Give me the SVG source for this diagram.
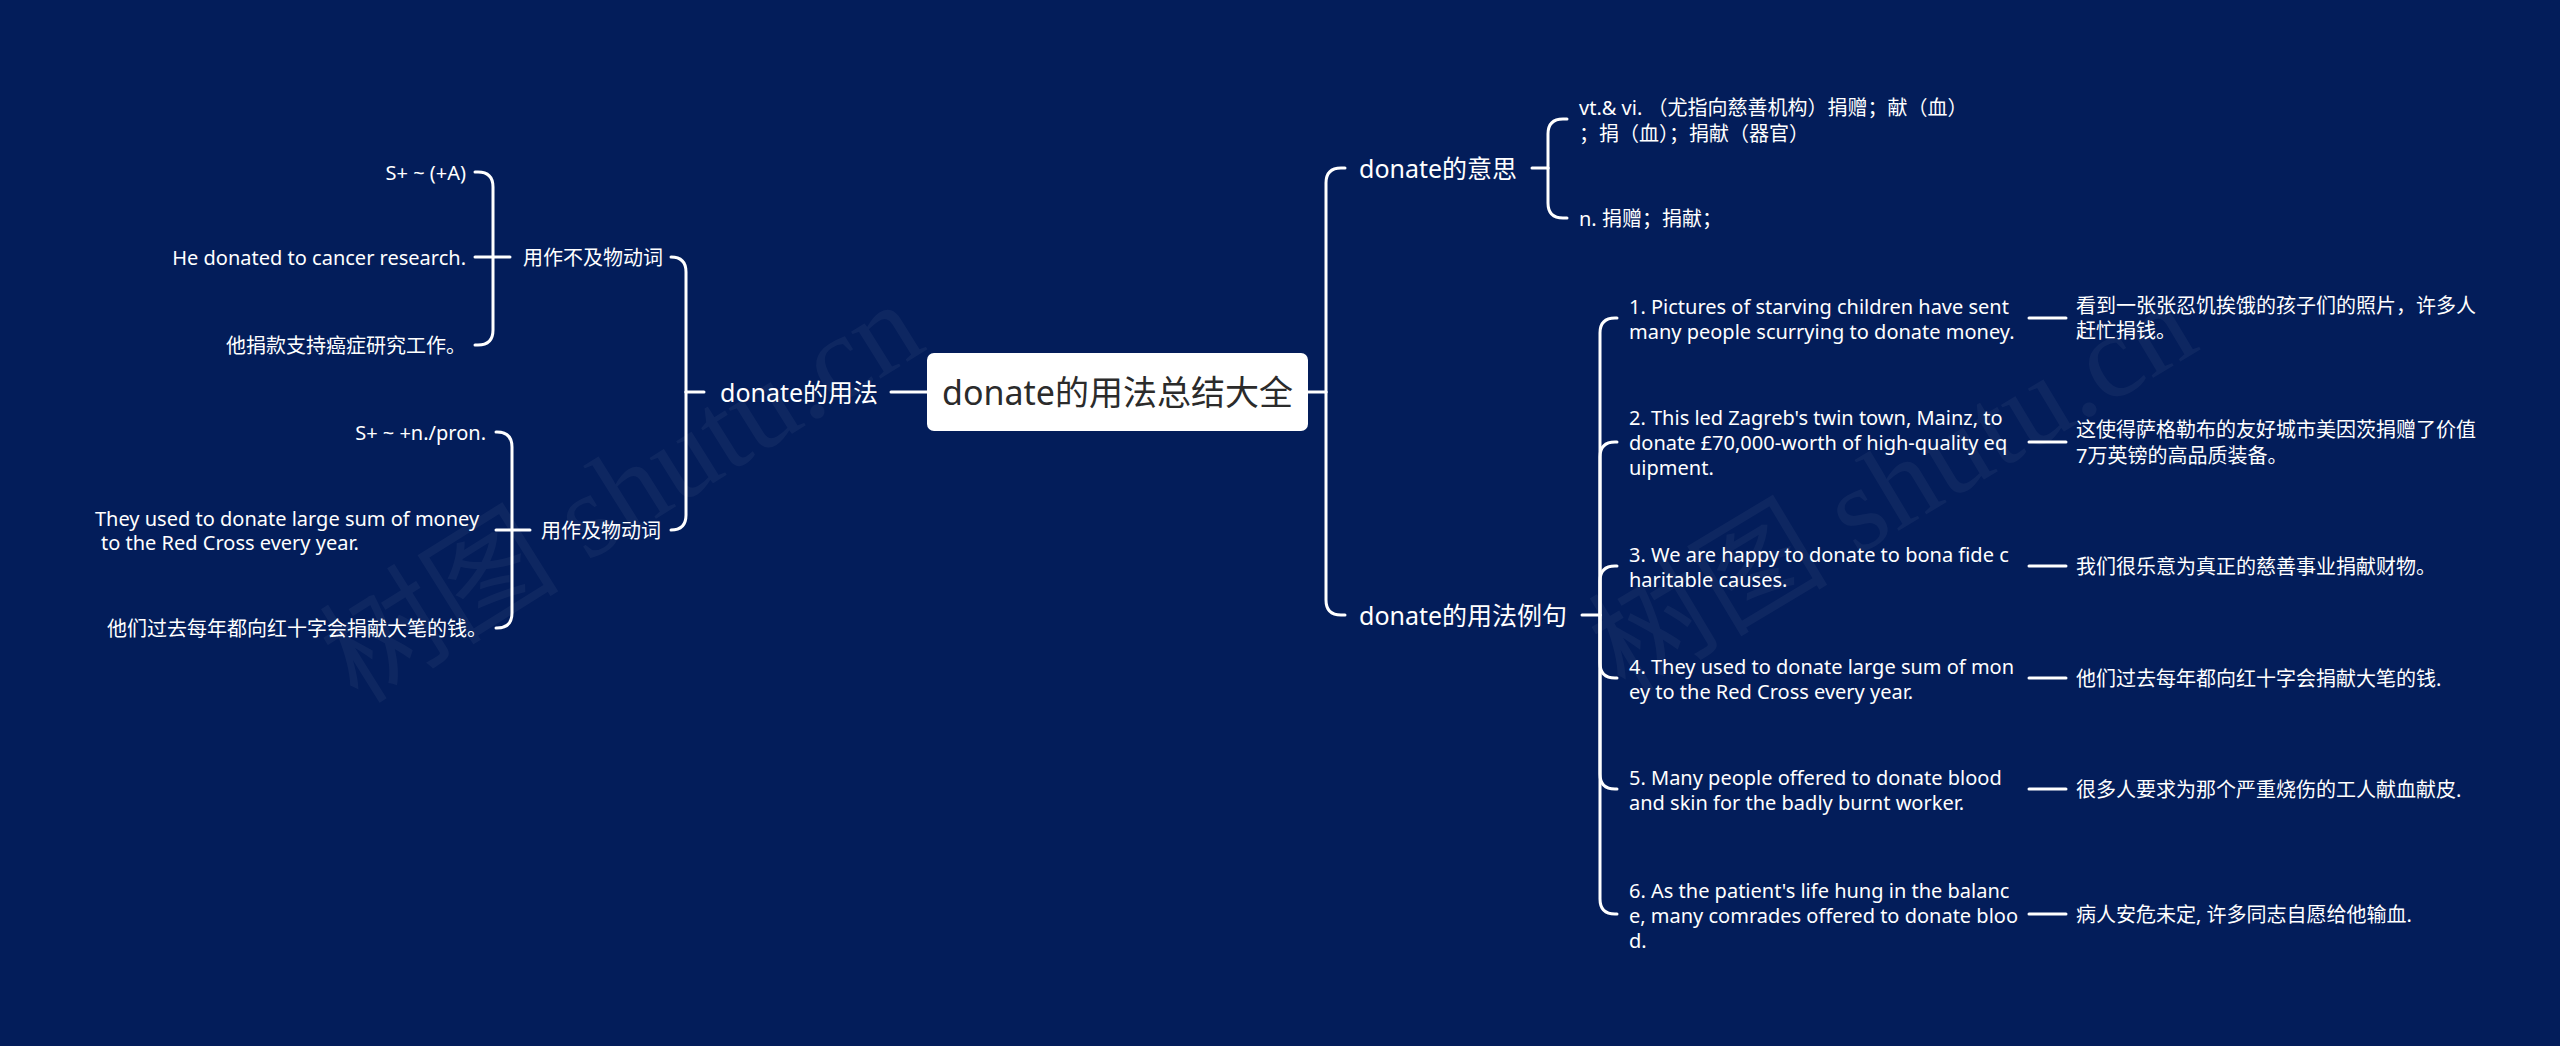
<svg xmlns="http://www.w3.org/2000/svg" width="2560" height="1046" viewBox="0 0 2560 1046">
<style>
.bg{fill:#031d5a}
.ln{fill:none;stroke:#ffffff;stroke-width:3;stroke-linecap:round;stroke-linejoin:round}
text{font-family:"Noto Sans","Noto Sans CJK SC",sans-serif;fill:#ffffff}
.t20{font-size:20px}
.t25{font-size:25px}
.root{font-size:34px;fill:#2b2b2b}
.wm{font-family:"Liberation Serif","Noto Sans CJK SC",serif;font-size:120px;fill:#ffffff;opacity:0.045}
</style>
<rect class="bg" x="0" y="0" width="2560" height="1046"/>
<g id="watermark">
<text class="wm" transform="translate(358,705) rotate(-32)">树图 shutu.cn</text>
<text class="wm" transform="translate(1625,695) rotate(-31)">树图 shutu.cn</text>
</g>
<g id="connectors">
<path class="ln" d="M927 392 H891"/>
<path class="ln" d="M704 392 H686"/>
<path class="ln" d="M686 392 V272 Q686 257 671 257"/>
<path class="ln" d="M686 392 V515 Q686 530 671 530"/>
<path class="ln" d="M510 257 H475"/>
<path class="ln" d="M493 257 V187 Q493 172 478 172 H475"/>
<path class="ln" d="M493 257 V330 Q493 345 478 345 H475"/>
<path class="ln" d="M530 530 H496"/>
<path class="ln" d="M512 530 V447 Q512 432 497 432 H496"/>
<path class="ln" d="M512 530 V613 Q512 628 497 628 H496"/>
<path class="ln" d="M1308 392 H1326"/>
<path class="ln" d="M1326 392 V183 Q1326 168 1341 168 H1345"/>
<path class="ln" d="M1326 392 V600 Q1326 615 1341 615 H1345"/>
<path class="ln" d="M1532 168 H1548"/>
<path class="ln" d="M1548 168 V134 Q1548 119 1563 119 H1567"/>
<path class="ln" d="M1548 168 V203 Q1548 218 1563 218 H1567"/>
<path class="ln" d="M1582 615 H1600"/>
<path class="ln" d="M1600 615 V333 Q1600 318 1615 318 H1617"/>
<path class="ln" d="M1600 615 V457 Q1600 442 1615 442 H1617"/>
<path class="ln" d="M1600 615 V581 Q1600 566 1615 566 H1617"/>
<path class="ln" d="M1600 615 V663 Q1600 678 1615 678 H1617"/>
<path class="ln" d="M1600 615 V774 Q1600 789 1615 789 H1617"/>
<path class="ln" d="M1600 615 V899 Q1600 914 1615 914 H1617"/>
<path class="ln" d="M2029 318 H2066"/>
<path class="ln" d="M2029 442 H2066"/>
<path class="ln" d="M2029 566 H2066"/>
<path class="ln" d="M2029 678 H2066"/>
<path class="ln" d="M2029 789 H2066"/>
<path class="ln" d="M2029 914 H2066"/>
</g>
<g id="root">
<rect x="927" y="353" width="381" height="78" rx="7" fill="#ffffff"/>
<text class="root" x="1117.5" y="392" text-anchor="middle" dominant-baseline="central">donate的用法总结大全</text>
</g>
<g id="n-usage">
<text class="t25" x="720" y="392" dominant-baseline="central">donate的用法</text>
</g>
<g id="n-intrans">
<text class="t20" x="523" y="257" dominant-baseline="central">用作不及物动词</text>
</g>
<g id="n-intrans-1">
<text class="t20" x="466" y="172" text-anchor="end" dominant-baseline="central">S+ ~ (+A)</text>
</g>
<g id="n-intrans-2">
<text class="t20" x="466" y="257" text-anchor="end" dominant-baseline="central">He donated to cancer research.</text>
</g>
<g id="n-intrans-3">
<text class="t20" x="466" y="345" text-anchor="end" dominant-baseline="central">他捐款支持癌症研究工作。</text>
</g>
<g id="n-trans">
<text class="t20" x="541" y="530" dominant-baseline="central">用作及物动词</text>
</g>
<g id="n-trans-1">
<text class="t20" x="486" y="432" text-anchor="end" dominant-baseline="central">S+ ~ +n./pron.</text>
</g>
<g id="n-trans-2">
<text class="t20" x="95" y="518" dominant-baseline="central">They used to donate large sum of money</text>
<text class="t20" x="101" y="542" dominant-baseline="central">to the Red Cross every year.</text>
</g>
<g id="n-trans-3">
<text class="t20" x="487" y="628" text-anchor="end" dominant-baseline="central">他们过去每年都向红十字会捐献大笔的钱。</text>
</g>
<g id="n-meaning">
<text class="t25" x="1359" y="168" dominant-baseline="central">donate的意思</text>
</g>
<g id="n-meaning-1">
<text class="t20" x="1579" y="107" dominant-baseline="central">vt.&amp; vi. （尤指向慈善机构）捐赠；献（血）</text>
<text class="t20" x="1579" y="133" dominant-baseline="central">；捐（血）；捐献（器官）</text>
</g>
<g id="n-meaning-2">
<text class="t20" x="1579" y="218" dominant-baseline="central">n. 捐赠；捐献；</text>
</g>
<g id="n-examples">
<text class="t25" x="1359" y="615" dominant-baseline="central">donate的用法例句</text>
</g>
<g id="n-ex1">
<text class="t20" x="1629" y="306" dominant-baseline="central">1. Pictures of starving children have sent</text>
<text class="t20" x="1629" y="331" dominant-baseline="central">many people scurrying to donate money.</text>
</g>
<g id="n-ex1-cn">
<text class="t20" x="2076" y="305" dominant-baseline="central">看到一张张忍饥挨饿的孩子们的照片，许多人</text>
<text class="t20" x="2076" y="330" dominant-baseline="central">赶忙捐钱。</text>
</g>
<g id="n-ex2">
<text class="t20" x="1629" y="417" dominant-baseline="central">2. This led Zagreb's twin town, Mainz, to</text>
<text class="t20" x="1629" y="442" dominant-baseline="central">donate £70,000-worth of high-quality eq</text>
<text class="t20" x="1629" y="467" dominant-baseline="central">uipment.</text>
</g>
<g id="n-ex2-cn">
<text class="t20" x="2076" y="429" dominant-baseline="central">这使得萨格勒布的友好城市美因茨捐赠了价值</text>
<text class="t20" x="2076" y="455" dominant-baseline="central">7万英镑的高品质装备。</text>
</g>
<g id="n-ex3">
<text class="t20" x="1629" y="554" dominant-baseline="central">3. We are happy to donate to bona fide c</text>
<text class="t20" x="1629" y="579" dominant-baseline="central">haritable causes.</text>
</g>
<g id="n-ex3-cn">
<text class="t20" x="2076" y="566" dominant-baseline="central">我们很乐意为真正的慈善事业捐献财物。</text>
</g>
<g id="n-ex4">
<text class="t20" x="1629" y="666" dominant-baseline="central">4. They used to donate large sum of mon</text>
<text class="t20" x="1629" y="691" dominant-baseline="central">ey to the Red Cross every year.</text>
</g>
<g id="n-ex4-cn">
<text class="t20" x="2076" y="678" dominant-baseline="central">他们过去每年都向红十字会捐献大笔的钱.</text>
</g>
<g id="n-ex5">
<text class="t20" x="1629" y="777" dominant-baseline="central">5. Many people offered to donate blood</text>
<text class="t20" x="1629" y="802" dominant-baseline="central">and skin for the badly burnt worker.</text>
</g>
<g id="n-ex5-cn">
<text class="t20" x="2076" y="789" dominant-baseline="central">很多人要求为那个严重烧伤的工人献血献皮.</text>
</g>
<g id="n-ex6">
<text class="t20" x="1629" y="890" dominant-baseline="central">6. As the patient's life hung in the balanc</text>
<text class="t20" x="1629" y="915" dominant-baseline="central">e, many comrades offered to donate bloo</text>
<text class="t20" x="1629" y="940" dominant-baseline="central">d.</text>
</g>
<g id="n-ex6-cn">
<text class="t20" x="2076" y="914" dominant-baseline="central">病人安危未定, 许多同志自愿给他输血.</text>
</g>
</svg>
